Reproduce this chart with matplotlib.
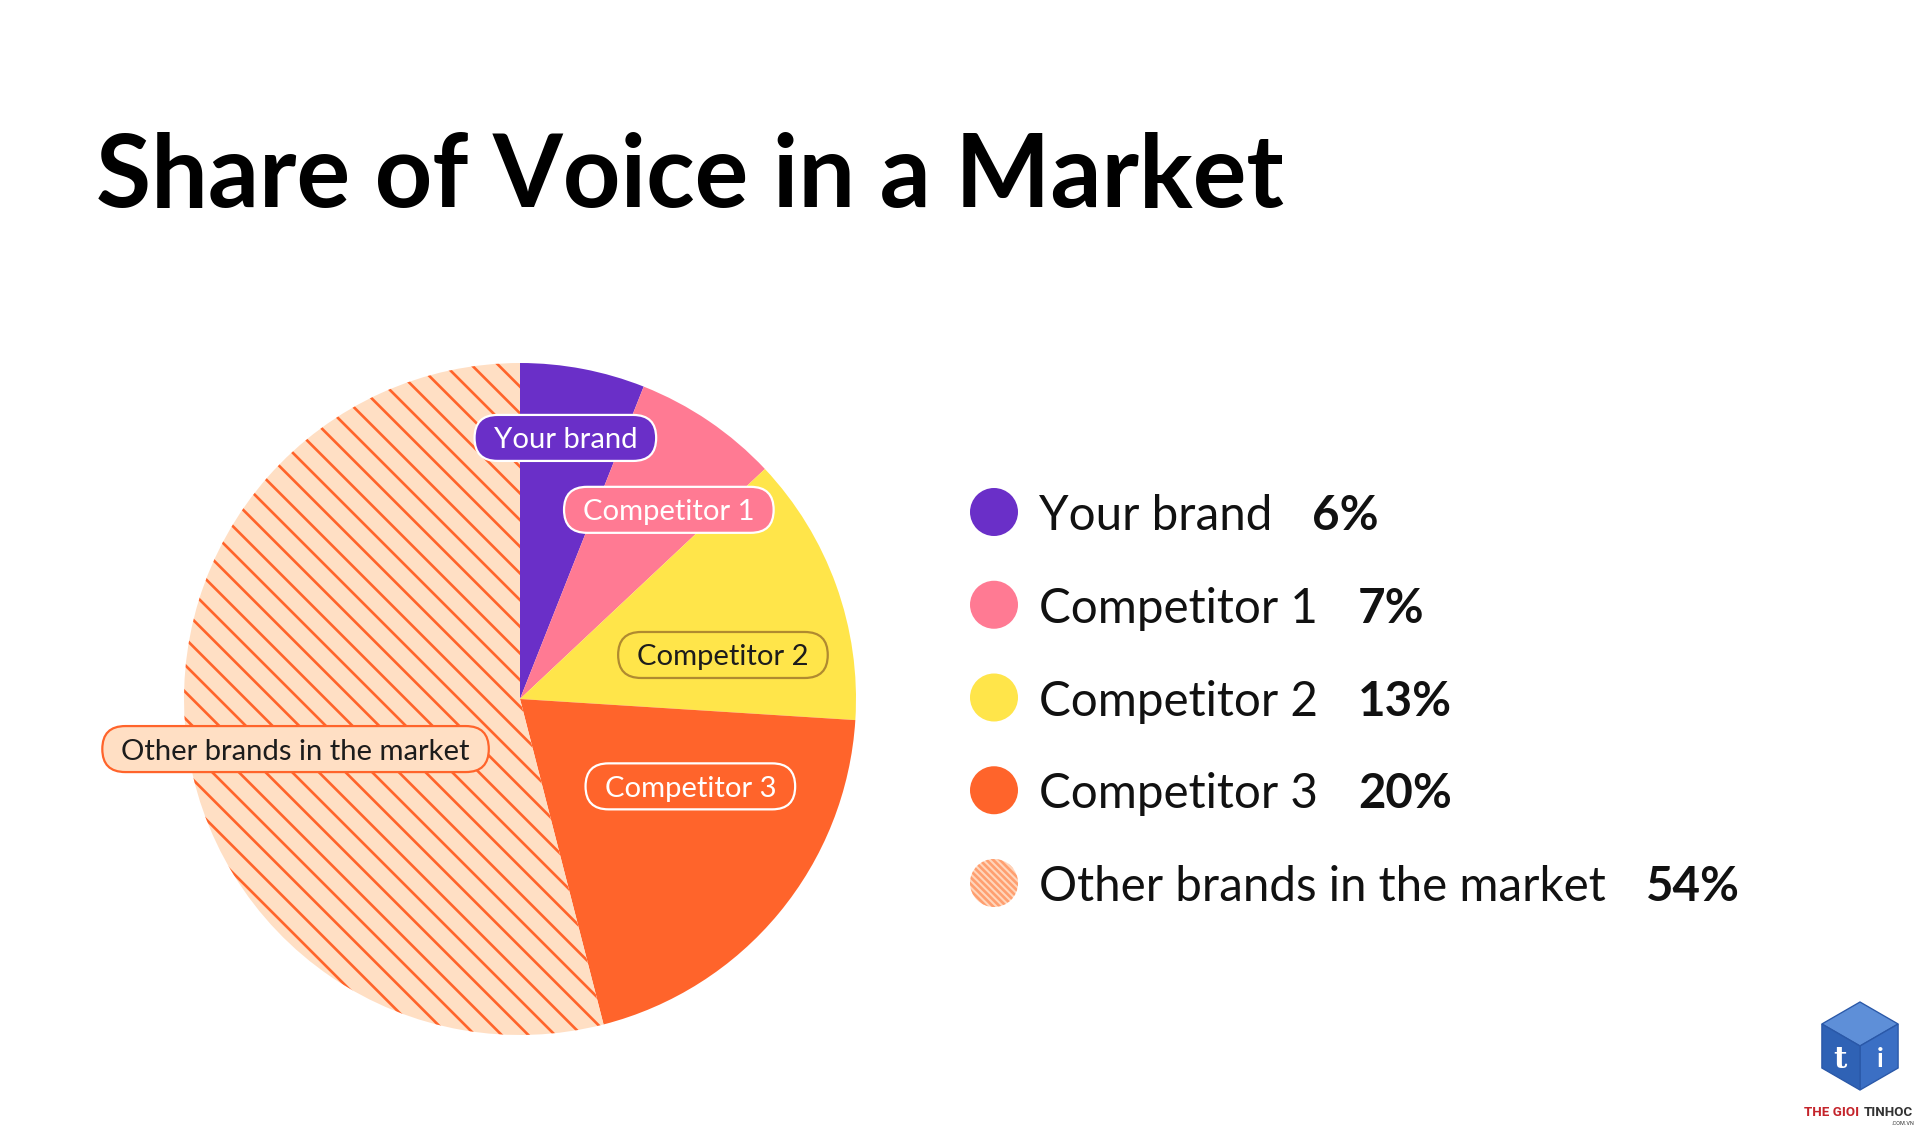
import numpy as np
import matplotlib.pyplot as plt
from matplotlib.patches import Circle, FancyBboxPatch, Polygon

brands = ['Your brand', 'Competitor 1', 'Competitor 2', 'Competitor 3', 'Other brands in the market']
share = [6, 7, 13, 20, 54]

colors = ['#6A2FC8', '#FF7A93', '#FFE54A', '#FF642B', '#FFDFC4']
hatch_color = '#FF642B'
# label pills inside the pie (pie units, radius = 1)
label_xy = [(0.135, 0.777), (0.443, 0.563), (0.604, 0.131), (0.507, -0.260), (-0.668, -0.149)]
label_txt = ['white', 'white', '#1c1c1c', 'white', '#1c1c1c']
label_edge = ['white', 'white', '#B08A30', 'white', '#FF642B']

plt.rcParams['font.family'] = ['Lato', 'DejaVu Sans']
plt.rcParams['hatch.linewidth'] = 1.2

W, H, DPI = 1922, 1128, 160
fig = plt.figure(figsize=(W / DPI, H / DPI), dpi=DPI)
fig.patch.set_facecolor('white')

# pie
cx, cy, R = 520, 699, 336
ax = fig.add_axes([(cx - R) / W, (H - cy - R) / H, 2 * R / W, 2 * R / H])
wedges, _ = ax.pie(share, colors=colors, startangle=90, counterclock=False,
                   radius=1, wedgeprops=dict(linewidth=0))
wedges[-1].set_hatch('\\\\')
wedges[-1].set_edgecolor(hatch_color)
ax.set_xlim(-1, 1)
ax.set_ylim(-1, 1)
ax.axis('off')

# overlay axes in pixel units (y down) for title, labels, legend
lax = fig.add_axes([0, 0, 1, 1])
lax.set_xlim(0, W)
lax.set_ylim(H, 0)
lax.axis('off')

lax.text(96, 207, 'Share of Voice in a Market', fontsize=45.3, fontweight='bold',
         color='black', ha='left', va='baseline')

renderer = fig.canvas.get_renderer()
to_lax = lax.transData.inverted()
for i, name in enumerate(brands):
    px, py = to_lax.transform(ax.transData.transform(label_xy[i]))
    t = lax.text(px, py + 10.5, name, fontsize=13.2, color=label_txt[i],
                 ha='center', va='baseline', zorder=4)
    bb = t.get_window_extent(renderer)
    x0 = to_lax.transform((bb.x0, bb.y0))[0]
    x1 = to_lax.transform((bb.x1, bb.y0))[0]
    pad, hh = 19, 23
    lax.add_patch(FancyBboxPatch((x0 - pad, py - hh), (x1 - x0) + 2 * pad, 2 * hh,
                                 boxstyle='round,pad=0,rounding_size=%g' % hh,
                                 fc=colors[i], ec=label_edge[i], lw=1.0, zorder=3))

# legend
lx, ly, step = 994, 512, 92.75
for i, name in enumerate(brands):
    y = ly + i * step
    if i == len(brands) - 1:
        dot = Circle((lx, y), 24, fc='#FFD6BC', ec='#FF9F70', lw=0, hatch='\\\\\\\\\\\\\\\\')
    else:
        dot = Circle((lx, y), 24, fc=colors[i], lw=0)
    lax.add_patch(dot)
    t = lax.text(1039, y + 18, name, fontsize=21.4, color='#111111', va='baseline')
    lax.annotate('%d%%' % share[i], xy=(1, 0), xycoords=t, xytext=(18, 0),
                 textcoords='offset points', fontsize=21.4, fontweight='bold',
                 color='#111111', va='bottom')

# watermark logo
gx, gy, s = 1860, 1046, 44
a = np.deg2rad(np.arange(6) * 60 - 90)
v = np.column_stack([gx + s * np.cos(a), gy + s * np.sin(a)])
c = (gx, gy)
lax.add_patch(Polygon([v[0], v[1], c, v[5]], closed=True, fc='#5E8FD8', ec='#2A58A8', lw=0.6))
lax.add_patch(Polygon([c, v[1], v[2], v[3]], closed=True, fc='#3B6FC4', ec='#2A58A8', lw=0.6))
lax.add_patch(Polygon([v[5], c, v[3], v[4]], closed=True, fc='#2F62B5', ec='#2A58A8', lw=0.6))
lax.text(gx - s * 0.45, gy + s * 0.3, 't', fontsize=13, fontweight='bold', color='white',
         ha='center', va='center', family='DejaVu Serif')
lax.text(gx + s * 0.45, gy + s * 0.3, 'i', fontsize=12, fontweight='bold', color='white',
         ha='center', va='center')
t1 = lax.text(1804, 1116, 'THE GIOI', fontsize=6, fontweight='bold', color='#C4242B',
              va='baseline', family='Roboto')
lax.annotate('TINHOC', xy=(1, 0), xycoords=t1, xytext=(2, 0), textcoords='offset points',
             fontsize=6, fontweight='bold', color='#333333', va='bottom', family='Roboto')
lax.text(1914, 1125, '.COM.VN', fontsize=2.5, color='#333333', ha='right', va='baseline',
         family='Roboto')

fig.savefig('out.png', dpi=DPI, facecolor='white')
